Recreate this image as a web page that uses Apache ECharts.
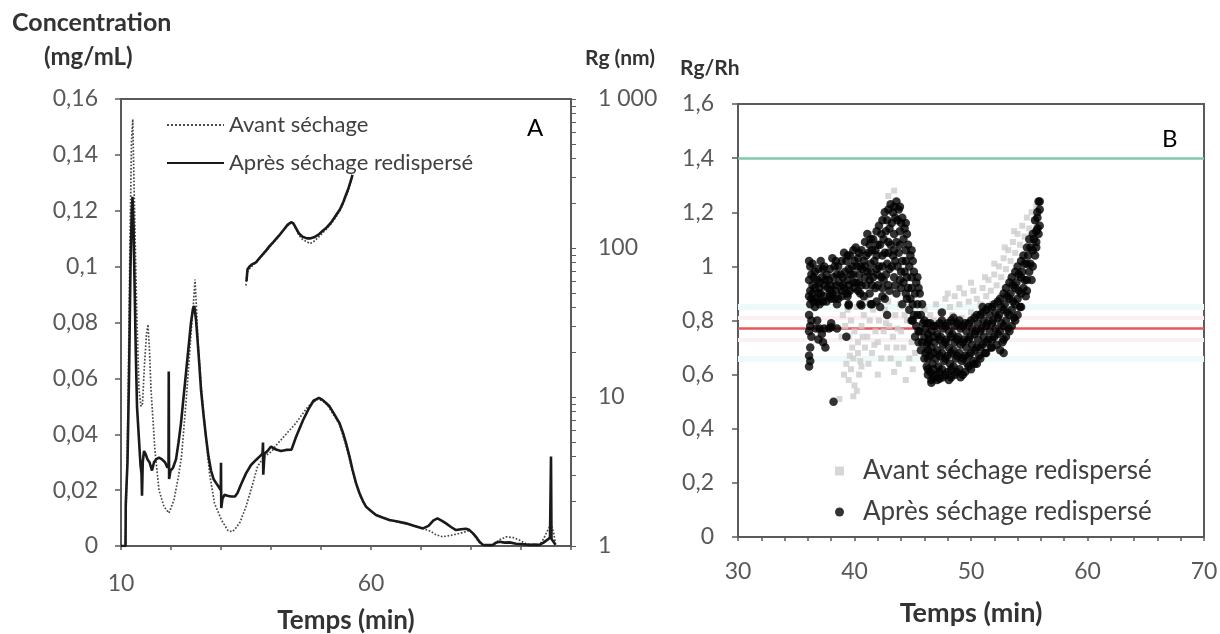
<!DOCTYPE html>
<html><head><meta charset="utf-8">
<script src="https://cdn.jsdelivr.net/npm/echarts@6/dist/echarts.min.js"></script>
<style>html,body{margin:0;padding:0;background:#fff}#c{width:1220px;height:634px}</style>
</head><body><div id="c"></div>
<script>
// ---------- Panel A : concentration (mg/mL) vs time (min) ----------
const avantConc = [[10.0,0],[10.9,0],[11.0,0.01],[11.4,0.05],[11.8,0.11],[12.1,0.145],[12.35,0.1528],[12.6,0.13],[12.9,0.104],[13.2,0.08],[13.6,0.056],[14.0,0.05],[14.3,0.051],[14.7,0.065],[15.1,0.076],[15.4,0.0793],[15.7,0.07],[16.0,0.056],[16.4,0.045],[16.8,0.034],[17.6,0.02],[18.6,0.0141],[19.6,0.0118],[20.6,0.0165],[21.5,0.025],[22.1,0.032],[23.1,0.0536],[24.0,0.076],[24.55,0.0885],[24.8,0.0954],[25.1,0.085],[25.4,0.073],[26.0,0.058],[26.7,0.044],[27.7,0.026],[28.7,0.0153],[30.1,0.0093],[31.4,0.0055],[32.3,0.0051],[33.0,0.0065],[33.8,0.0085],[35.0,0.0141],[36.4,0.0226],[37.3,0.0284],[38.6,0.032],[39.5,0.033],[40.2,0.034],[41.0,0.036],[42.0,0.038],[43.0,0.040],[44.0,0.042],[45.0,0.044],[46.0,0.0465],[47.0,0.049],[48.0,0.051],[49.3,0.0525],[50.3,0.052],[51.3,0.0505],[52.5,0.047],[53.7,0.0435],[55.0,0.036],[56.3,0.0268],[57.7,0.0185],[59.0,0.014],[61.0,0.011],[63.7,0.0092],[67.0,0.008],[70.4,0.0063],[72.0,0.0052],[73.0,0.004],[74.3,0.0033],[76.0,0.0038],[77.7,0.0045],[79.7,0.0055],[80.6,0.004],[81.5,0.0015],[82.4,0.0003],[84.4,0.0003],[85.5,0.002],[87.0,0.0033],[88.5,0.003],[89.7,0.0021],[91.0,0.0008],[92.5,0.0003],[93.7,0.0004],[94.5,0.0025],[95.3,0.0055],[96.0,0.0078],[96.5,0.005],[96.9,0.0008]];
const apresConc = [[10.0,0],[10.9,0],[10.95,0.015],[11.3,0.03],[11.6,0.06],[11.9,0.1],[12.15,0.12],[12.3,0.125],[12.5,0.115],[12.75,0.09],[12.95,0.07],[13.2,0.05],[13.6,0.038],[13.9,0.029],[14.1,0.026],[14.2,0.018],[14.35,0.03],[14.6,0.034],[14.9,0.033],[15.3,0.031],[15.7,0.03],[16.2,0.027],[16.6,0.03],[17.0,0.031],[17.6,0.0316],[18.2,0.031],[18.8,0.03],[19.3,0.028],[19.5,0.029],[19.55,0.0625],[19.62,0.024],[19.9,0.027],[20.4,0.028],[21.0,0.031],[21.5,0.037],[22.0,0.044],[22.5,0.053],[23.0,0.062],[23.5,0.071],[24.0,0.08],[24.4,0.085],[24.66,0.0859],[25.0,0.081],[25.3,0.074],[25.7,0.064],[26.0,0.056],[26.5,0.047],[27.0,0.039],[27.5,0.032],[28.0,0.027],[28.5,0.024],[29.0,0.0226],[29.6,0.021],[29.95,0.02],[30.0,0.0298],[30.05,0.0136],[30.3,0.017],[30.7,0.0183],[31.3,0.018],[32.0,0.0177],[32.8,0.0177],[33.3,0.019],[34.0,0.022],[35.0,0.026],[36.0,0.029],[37.0,0.0308],[37.7,0.032],[38.3,0.033],[38.4,0.037],[38.45,0.0255],[38.7,0.033],[39.3,0.034],[40.0,0.0356],[41.0,0.0345],[42.0,0.034],[43.0,0.0344],[44.1,0.0345],[45.0,0.039],[46.4,0.045],[47.5,0.049],[48.5,0.052],[49.6,0.053],[50.3,0.0523],[51.0,0.0512],[51.7,0.05],[52.7,0.047],[53.7,0.044],[54.4,0.0405],[55.0,0.0368],[55.7,0.032],[56.3,0.0273],[57.0,0.0225],[57.7,0.0189],[58.4,0.016],[59.0,0.0141],[60.0,0.0125],[61.0,0.0111],[62.3,0.0102],[63.7,0.0093],[65.3,0.0088],[67.0,0.0081],[68.7,0.0072],[70.4,0.0063],[71.5,0.0072],[72.5,0.0092],[73.3,0.0099],[74.2,0.009],[75.0,0.0081],[76.0,0.0068],[77.0,0.0057],[78.0,0.006],[79.0,0.0062],[79.7,0.0057],[80.4,0.0045],[81.0,0.0033],[81.7,0.0015],[82.4,0.0004],[83.5,0.0003],[84.4,0.0004],[85.0,0.0012],[85.7,0.0015],[86.7,0.0012],[87.7,0.0013],[89.0,0.0008],[90.5,0.0006],[91.7,0.0004],[92.7,0.0005],[93.7,0.0004],[94.5,0.0012],[95.1,0.002],[95.8,0.003],[96.0,0.032],[96.1,0.0025],[96.5,0.0015],[96.9,0.0004]];
// Rg (nm), right log axis
const avantRg = [[35.0,56],[35.2,68],[35.6,72],[36.3,76],[37.0,80],[38.0,87],[39.0,95],[39.7,101],[40.5,109],[41.5,119],[42.5,131],[43.3,141],[44.0,147],[44.5,144],[45.0,134],[45.6,122],[46.3,114],[47.2,110],[47.8,107],[48.6,111],[49.5,118],[50.3,126],[51.1,134],[52.0,145],[52.8,158],[53.8,178],[54.5,200],[55.0,222],[55.5,245],[56.0,280],[56.2,300]];
const apresRg = [[35.1,60],[35.3,72],[35.7,75],[36.3,78],[37.0,80],[38.0,88],[39.0,96],[39.7,103],[40.5,110],[41.5,120],[42.5,132],[43.3,143],[44.0,149],[44.5,146],[45.0,136],[45.6,125],[46.3,119],[47.2,116],[47.8,116],[48.6,118],[49.5,123],[50.3,130],[51.1,137],[52.0,148],[52.8,162],[53.8,182],[54.5,205],[55.0,228],[55.5,252],[56.0,285],[56.3,310]];
const xLabelsA = [10, 60];
const rgTickValues = [1,2,3,4,5,6,7,8,9,10,20,30,40,50,60,70,80,90,100,200,300,400,500,600,700,800,900,1000];
const rgLabels = {1:'1',10:'10',100:'100',1000:'1 000'};
const legendA = ['Avant séchage','Après séchage redispersé'];

// ---------- Panel B : Rg/Rh vs time (min) ----------
const avantRatio = [[38.7,0.51],[39.1,0.60],[39.3,0.64],[39.5,0.58],[39.7,0.62],[39.9,0.66],[40.0,0.56],[40.2,0.54],[40.4,0.60],[40.6,0.63],[40.3,0.68],[39.8,0.70],[39.5,0.74],[39.2,0.78],[39.0,0.82],[39.4,0.84],[39.7,0.80],[40.0,0.76],[40.3,0.72],[40.6,0.78],[40.8,0.82],[40.9,0.70],[41.1,0.74],[41.3,0.80],[41.5,0.68],[41.6,0.84],[41.8,0.76],[42.0,0.72],[42.1,0.80],[42.3,0.66],[42.5,0.76],[42.6,0.84],[42.8,0.70],[43.0,0.78],[43.1,0.66],[43.3,0.74],[43.5,0.82],[43.6,0.70],[43.8,0.64],[44.0,0.76],[44.2,0.70],[44.4,0.58],[44.5,0.80],[44.7,0.66],[44.9,0.72],[45.0,0.62],[45.2,0.68],[41.0,0.88],[41.9,0.86],[42.9,0.87],[43.9,0.86],[40.2,0.85],[38.9,0.74],[41.2,0.64],[42.0,0.60],[43.4,0.61],[42.9,1.26],[43.4,1.28],[41.5,1.12],[42.5,1.18],[40.7,0.74],[41.7,0.71],[42.7,0.79],[43.7,0.77],[44.3,0.82],[39.6,0.67],[40.5,0.65],[39.9,0.52],
[46.0,0.84],[46.5,0.82],[47.0,0.86],[47.4,0.83],[47.8,0.88],[48.2,0.85],[48.6,0.89],[49.0,0.86],[49.4,0.90],[49.8,0.87],[50.2,0.91],[50.5,0.88],[46.8,0.80],[47.6,0.79],[48.4,0.82],[49.2,0.81],[50.0,0.83],[46.5,0.72],[47.5,0.70],[48.5,0.68],[49.5,0.72],[46.0,0.78],[48.0,0.90],[49.0,0.92],[50.0,0.94],
[50.8,0.86],[51.0,0.92],[51.3,0.89],[51.5,0.95],[51.7,0.91],[52.0,0.97],[52.2,0.93],[52.4,1.0],[52.6,0.96],[52.8,1.03],[53.0,0.99],[53.2,1.06],[53.4,1.02],[53.6,1.09],[53.8,1.05],[54.0,1.12],[54.2,1.08],[54.4,1.15],[54.6,1.11],[54.8,1.18],[55.0,1.14],[55.2,1.2],[55.4,1.17],[55.6,1.22],[51.8,0.86],[52.6,0.89],[53.4,0.93],[54.2,0.98],[51.2,0.96],[52.0,1.01],[52.9,1.07],[53.7,1.13]];
const apresRatio = [[36.1,1.02],[36.2,1.0],[36.3,0.97],[36.1,0.95],[36.4,0.93],[36.2,0.91],[36.1,0.89],[36.3,0.88],[36.2,0.86],[36.1,0.82],[36.3,0.80],[36.2,0.78],[36.1,0.76],[36.3,0.74],[36.2,0.70],[36.1,0.67],[36.2,0.65],[36.1,0.63],
[36.6,0.98],[36.8,0.95],[36.6,0.92],[36.9,0.90],[36.7,0.88],[36.6,0.85],[36.8,0.80],[36.7,0.77],[37.0,0.77],[36.9,0.73],
[37.1,1.02],[37.3,0.99],[37.2,0.96],[37.4,0.93],[37.1,0.90],[37.3,0.87],[37.4,0.77],[37.2,0.75],[37.3,0.72],[37.5,0.70],
[37.6,0.97],[37.8,0.95],[37.7,0.92],[37.9,0.89],[37.6,0.87],[37.8,0.77],[38.0,0.775],
[38.1,1.03],[38.3,1.0],[38.2,0.96],[38.4,0.93],[38.1,0.90],[38.3,0.88],[38.5,0.86],[38.2,0.50],
[38.6,1.0],[38.8,0.97],[38.7,0.94],[38.9,0.91],[38.6,0.88],
[39.1,1.05],[39.3,1.02],[39.2,0.98],[39.4,0.95],[39.1,0.92],[39.4,0.89],[39.3,0.74],
[39.6,1.04],[39.8,1.0],[39.7,0.97],[39.9,0.94],[39.6,0.91],[39.5,0.86],
[40.1,1.07],[40.3,1.03],[40.2,1.0],[40.4,0.97],[40.1,0.94],[40.3,0.91],[40.5,0.86],
[40.6,1.06],[40.8,1.02],[40.7,0.99],[40.9,0.96],[40.6,0.93],
[41.1,1.12],[41.3,1.08],[41.2,1.05],[41.4,1.01],[41.1,0.98],[41.3,0.95],[41.4,0.86],
[41.6,1.10],[41.8,1.06],[41.7,1.02],[41.9,0.99],[41.6,0.96],[41.8,0.92],[41.9,0.87],
[42.1,1.15],[42.3,1.12],[42.2,1.08],[42.4,1.04],[42.1,1.0],[42.3,0.96],[42.4,0.92],[42.2,0.85],
[42.6,1.20],[42.8,1.17],[42.7,1.13],[42.9,1.09],[42.6,1.05],[42.8,1.01],[42.7,0.97],[42.9,0.93],[42.6,0.88],
[43.1,1.23],[43.3,1.20],[43.2,1.16],[43.4,1.12],[43.1,1.08],[43.3,1.04],[43.2,1.0],[43.4,0.96],
[43.6,1.24],[43.8,1.21],[43.7,1.17],[43.9,1.13],[43.6,1.09],[43.8,1.05],[43.7,1.0],[43.9,0.95],[43.6,0.9],
[44.1,1.18],[44.3,1.14],[44.2,1.10],[44.4,1.06],[44.1,1.02],[44.3,0.98],[44.2,0.94],[44.4,0.90],[44.1,0.86],
[44.6,1.08],[44.8,1.04],[44.7,1.0],[44.9,0.96],[44.6,0.92],[44.8,0.88],[44.7,0.84],[44.9,0.80],
[45.1,0.98],[45.3,0.94],[45.2,0.90],[45.4,0.86],[45.1,0.82],[45.3,0.78],[45.2,0.74],
[45.6,0.90],[45.8,0.86],[45.7,0.82],[45.9,0.79],[45.6,0.76],[45.8,0.72],[45.7,0.69],
[36.4,1.01],[36.5,0.96],[36.4,0.90],[36.5,0.87],[36.9,0.99],[37.0,0.94],[36.9,0.87],[37.0,0.92],
[37.4,1.0],[37.5,0.95],[37.4,0.89],[37.9,0.99],[38.0,0.93],[37.9,0.91],[38.0,0.88],
[38.4,1.02],[38.5,0.97],[38.4,0.91],[38.9,1.02],[39.0,0.96],[38.9,0.89],[39.0,0.93],
[39.4,1.04],[39.5,0.99],[39.5,0.93],[39.4,0.90],[39.9,1.06],[40.0,1.02],[39.9,0.97],[40.0,0.92],
[40.4,1.05],[40.5,1.0],[40.4,0.94],[40.5,0.90],[40.9,1.09],[41.0,1.04],[40.9,1.0],[41.0,0.93],[40.8,0.89],
[41.4,1.10],[41.5,1.06],[41.4,0.98],[41.5,0.93],[41.3,0.90],[41.9,1.13],[42.0,1.08],[41.9,1.04],[42.0,0.97],[42.0,0.93],
[42.4,1.17],[42.5,1.10],[42.4,1.0],[42.5,0.95],[42.4,0.89],[42.9,1.21],[43.0,1.14],[42.9,1.05],[43.0,0.99],[43.0,0.91],
[43.4,1.22],[43.5,1.18],[43.4,1.06],[43.5,1.02],[43.5,0.93],[43.9,1.22],[44.0,1.16],[43.9,1.08],[44.0,0.98],[44.0,0.92],
[44.4,1.16],[44.5,1.12],[44.4,1.02],[44.5,0.96],[44.5,0.88],[44.9,1.06],[45.0,1.02],[44.9,0.92],[45.0,0.86],[45.0,0.80],
[45.4,0.96],[45.5,0.92],[45.4,0.82],[45.5,0.76],[45.5,0.72],
[39.5,0.855],[40.6,0.855],[41.5,0.86],[42.8,0.82],[37.0,0.86],[38.0,0.79],[38.5,0.77],
[46.0,0.80],[46.1,0.77],[46.0,0.74],[46.2,0.71],[46.1,0.68],[46.0,0.66],[46.2,0.63],
[46.5,0.79],[46.6,0.76],[46.4,0.73],[46.6,0.70],[46.5,0.67],[46.7,0.64],[46.5,0.61],[46.6,0.58],[46.6,0.57],
[47.0,0.78],[47.1,0.75],[46.9,0.72],[47.1,0.69],[47.0,0.66],[47.2,0.63],[47.0,0.60],[47.1,0.58],
[47.5,0.80],[47.6,0.77],[47.4,0.74],[47.6,0.71],[47.5,0.68],[47.7,0.65],[47.5,0.62],[47.6,0.59],[47.5,0.83],
[48.0,0.79],[48.1,0.76],[47.9,0.73],[48.1,0.70],[48.0,0.67],[48.2,0.64],[48.0,0.61],[48.1,0.58],
[48.5,0.81],[48.6,0.78],[48.4,0.75],[48.6,0.72],[48.5,0.69],[48.7,0.66],[48.5,0.63],[48.6,0.60],
[49.0,0.80],[49.1,0.77],[48.9,0.74],[49.1,0.71],[49.0,0.68],[49.2,0.65],[49.0,0.62],[49.1,0.59],
[49.5,0.79],[49.6,0.76],[49.4,0.73],[49.6,0.70],[49.5,0.67],[49.7,0.64],[49.5,0.61],
[50.0,0.80],[50.1,0.77],[49.9,0.74],[50.1,0.71],[50.0,0.68],[50.2,0.65],[50.0,0.62],
[50.5,0.82],[50.6,0.79],[50.4,0.76],[50.6,0.73],[50.5,0.70],[50.7,0.67],[50.5,0.64],
[51.0,0.83],[51.1,0.80],[50.9,0.77],[51.1,0.74],[51.0,0.71],[51.2,0.68],[51.0,0.85],
[51.5,0.85],[51.6,0.82],[51.4,0.79],[51.6,0.76],[51.5,0.73],[51.7,0.70],
[52.0,0.86],[52.1,0.83],[51.9,0.80],[52.1,0.77],[52.0,0.74],[52.2,0.71],
[52.5,0.88],[52.6,0.85],[52.4,0.82],[52.6,0.79],[52.5,0.76],[52.7,0.72],[52.5,0.69],[52.8,0.68],
[53.0,0.92],[53.1,0.89],[52.9,0.86],[53.1,0.83],[53.0,0.80],[53.2,0.77],[53.0,0.74],
[53.5,0.96],[53.6,0.93],[53.4,0.90],[53.6,0.87],[53.5,0.84],[53.7,0.81],[53.5,0.78],
[54.0,1.00],[54.1,0.97],[53.9,0.94],[54.1,0.91],[54.0,0.88],[54.2,0.85],[54.0,0.82],
[54.5,1.04],[54.6,1.01],[54.4,0.98],[54.6,0.95],[54.5,0.92],[54.7,0.89],
[55.0,1.10],[55.1,1.07],[54.9,1.04],[55.1,1.01],[55.0,0.98],[55.2,0.95],
[55.5,1.17],[55.6,1.13],[55.4,1.10],[55.6,1.07],[55.5,1.04],
[55.8,1.24],[55.9,1.21],[55.7,1.18],[55.9,1.15],[55.8,1.12],
[46.3,0.79],[46.3,0.75],[46.3,0.72],[46.3,0.69],[46.3,0.66],[46.3,0.62],[46.3,0.60],
[46.8,0.78],[46.8,0.74],[46.8,0.68],[46.8,0.62],[46.8,0.59],[47.3,0.79],[47.3,0.73],[47.3,0.67],[47.3,0.61],[47.3,0.585],
[47.8,0.78],[47.8,0.72],[47.8,0.66],[47.8,0.60],[48.3,0.80],[48.3,0.74],[48.3,0.68],[48.3,0.62],[48.3,0.59],
[48.8,0.79],[48.8,0.73],[48.8,0.67],[48.8,0.61],[49.3,0.78],[49.3,0.72],[49.3,0.66],[49.3,0.60],
[49.8,0.79],[49.8,0.73],[49.8,0.67],[49.8,0.63],[50.3,0.81],[50.3,0.75],[50.3,0.69],[50.3,0.64],
[50.8,0.82],[50.8,0.76],[50.8,0.70],[50.8,0.66],[51.3,0.84],[51.3,0.78],[51.3,0.72],[51.3,0.68],
[51.8,0.85],[51.8,0.79],[51.8,0.73],[51.8,0.70],[52.3,0.87],[52.3,0.81],[52.3,0.75],
[52.8,0.90],[52.8,0.84],[52.8,0.78],[52.8,0.73],[53.3,0.94],[53.3,0.88],[53.3,0.82],[53.3,0.76],
[53.8,0.98],[53.8,0.92],[53.8,0.86],[53.8,0.80],[54.3,1.02],[54.3,0.96],[54.3,0.90],[54.3,0.85],
[54.8,1.07],[54.8,1.01],[54.8,0.95],[54.8,0.91],[55.3,1.12],[55.3,1.06],[55.3,1.0],
[55.7,1.20],[55.7,1.14],[55.6,1.09],[55.9,1.24]];
const legendBNames = ['rgRhAvant','rgRhApres'];
const legendBLabels = {rgRhAvant:'Avant séchage redispersé', rgRhApres:'Après séchage redispersé'};
const refLinesB = [1.4, 0.77];

const FONT = 'Lato';
const TICK = '#595959';
const AXIS = '#5a5a5a';
const commaFmt = v => String(Math.round(v*100)/100).replace('.', ',');

const chart = echarts.init(document.getElementById('c'), null, {renderer:'canvas'});
chart.setOption({
  animation: false,
  backgroundColor: '#fff',
  textStyle: {fontFamily: FONT},
  grid: [
    {left:121, right:649, top:99, bottom:88, show:true, borderColor:AXIS, borderWidth:2, containLabel:false, outerBoundsMode:'none'},
    {left:738, right:16, top:104, bottom:97, show:true, borderColor:AXIS, borderWidth:2, containLabel:false, outerBoundsMode:'none'}
  ],
  xAxis: [
    {gridIndex:0, type:'value', min:10, max:100, interval:10,
     axisLine:{lineStyle:{color:AXIS, width:2}},
     axisTick:{length:4, lineStyle:{color:AXIS, width:1.5}},
     axisLabel:{margin:26, fontSize:23, color:TICK, fontFamily:FONT,
       formatter: v => xLabelsA.includes(v) ? String(v) : ''},
     splitLine:{show:false},
     name:'Temps (min)', nameLocation:'middle', nameGap:62,
     nameTextStyle:{fontSize:26, fontWeight:'bold', color:'#333', fontFamily:FONT}},
    {gridIndex:1, type:'value', min:30, max:70, interval:2,
     axisLine:{lineStyle:{color:AXIS, width:2}},
     axisTick:{length:4, lineStyle:{color:AXIS, width:1.5}},
     axisLabel:{margin:23, fontSize:23, color:TICK, fontFamily:FONT,
       formatter: v => (v % 10 === 0) ? String(v) : ''},
     splitLine:{show:false},
     name:'Temps (min)', nameLocation:'middle', nameGap:63,
     nameTextStyle:{fontSize:27, fontWeight:'bold', color:'#333', fontFamily:FONT}}
  ],
  yAxis: [
    {gridIndex:0, type:'value', min:0, max:0.16, interval:0.02,
     axisLine:{show:true, lineStyle:{color:AXIS, width:2}},
     axisTick:{show:true, length:6, lineStyle:{color:AXIS, width:1.5}},
     axisLabel:{margin:23, fontSize:23, color:TICK, fontFamily:FONT, formatter: commaFmt},
     splitLine:{show:false}},
    {gridIndex:0, type:'log', logBase:10, min:1, max:1000, position:'right',
     axisLine:{show:true, lineStyle:{color:AXIS, width:2}},
     axisTick:{show:true, length:5, customValues: rgTickValues, lineStyle:{color:AXIS, width:1}},
     axisLabel:{margin:27, fontSize:23, color:TICK, fontFamily:FONT,
       formatter: v => rgLabels[Math.round(v)] || ''},
     splitLine:{show:false}},
    {gridIndex:1, type:'value', min:0, max:1.6, interval:0.2,
     axisLine:{show:true, lineStyle:{color:AXIS, width:2}},
     axisTick:{show:true, length:6, lineStyle:{color:AXIS, width:1.5}},
     axisLabel:{margin:24, fontSize:23, color:TICK, fontFamily:FONT, formatter: commaFmt},
     splitLine:{show:false}}
  ],
  legend: [
    {data: legendA, orient:'vertical', left:161, top:109, itemWidth:57, itemHeight:22, itemGap:16,
     itemStyle:{opacity:0},
     textStyle:{fontSize:22, lineHeight:22, color:'#404040', fontFamily:FONT}},
    {data: legendBNames, orient:'vertical', left:830, top:453, itemWidth:9, itemHeight:9, itemGap:15,
     formatter: n => legendBLabels[n],
     textStyle:{fontSize:26, lineHeight:26, color:'#404040', fontFamily:FONT, padding:[0,0,0,14]}}
  ],
  graphic: [
    {type:'text', x:12, y:23, style:{text:'Concentration', fontSize:25, fontWeight:'bold', fontFamily:FONT, fill:'#333', verticalAlign:'middle'}},
    {type:'text', x:44, y:57, style:{text:'(mg/mL)', fontSize:24, fontWeight:'bold', fontFamily:FONT, fill:'#333', verticalAlign:'middle'}},
    {type:'text', x:585, y:58, style:{text:'Rg (nm)', fontSize:21, fontWeight:'bold', fontFamily:FONT, fill:'#333', verticalAlign:'middle'}},
    {type:'text', x:680, y:68, style:{text:'Rg/Rh', fontSize:21, fontWeight:'bold', fontFamily:FONT, fill:'#333', verticalAlign:'middle'}},
    {type:'text', x:527, y:128, style:{text:'A', fontSize:24, fontFamily:FONT, fill:'#000', verticalAlign:'middle'}},
    {type:'text', x:1162, y:139, style:{text:'B', fontSize:24, fontFamily:FONT, fill:'#000', verticalAlign:'middle'}}
  ],
  series: [
    {name:legendA[0], type:'line', xAxisIndex:0, yAxisIndex:0, data:avantConc, symbol:'none', showSymbol:false,
     lineStyle:{type:'dotted', width:1.7, color:'#4a4a4a'}, itemStyle:{color:'#4a4a4a'}, z:2},
    {name:legendA[1], type:'line', xAxisIndex:0, yAxisIndex:0, data:apresConc, symbol:'none', showSymbol:false,
     lineStyle:{width:2.6, color:'#1a1a1a'}, itemStyle:{color:'#1a1a1a'}, z:3},
    {name:legendA[0], type:'line', xAxisIndex:0, yAxisIndex:1, data:avantRg, symbol:'none', showSymbol:false,
     lineStyle:{type:'dotted', width:1.7, color:'#4a4a4a'}, itemStyle:{color:'#4a4a4a'}, z:2},
    {name:legendA[1], type:'line', xAxisIndex:0, yAxisIndex:1, data:apresRg, symbol:'none', showSymbol:false,
     lineStyle:{width:2.6, color:'#1a1a1a'}, itemStyle:{color:'#1a1a1a'}, z:3},
    {name:legendBNames[0], type:'scatter', xAxisIndex:1, yAxisIndex:2, data:avantRatio, symbol:'rect', symbolSize:6,
     itemStyle:{color:'#cdcdcd'}, z:2,
     markLine:{silent:true, symbol:'none', label:{show:false}, z:1,
       data:[
         {yAxis:0.855, lineStyle:{color:'#eef9f9', width:6, type:'solid'}},
         {yAxis:0.655, lineStyle:{color:'#eef9f9', width:6, type:'solid'}},
         {yAxis:0.815, lineStyle:{color:'#fbeff3', width:4, type:'solid'}},
         {yAxis:0.735, lineStyle:{color:'#fbeff3', width:4, type:'solid'}},
         {yAxis:refLinesB[0], lineStyle:{color:'#7fc9aa', width:2.5, type:'solid'}},
         {yAxis:refLinesB[1], lineStyle:{color:'#e4585e', width:2.5, type:'solid'}}
       ]}},
    {name:legendBNames[1], type:'scatter', xAxisIndex:1, yAxisIndex:2, data:apresRatio, symbol:'circle', symbolSize:8.5,
     itemStyle:{color:'#000'}, z:3}
  ]
});
</script>
</body></html>
